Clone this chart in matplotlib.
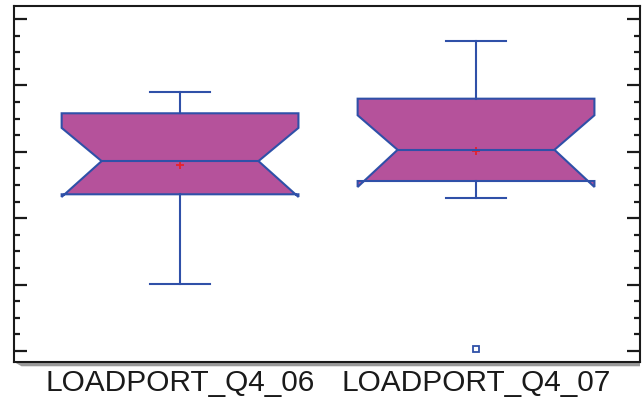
import numpy as np
import matplotlib.pyplot as plt
from matplotlib.patches import Polygon

categories = ['LOADPORT_Q4_06', 'LOADPORT_Q4_07']
whisker_hi = [3.90, 4.67]
q3 = [3.58, 3.80]
notch_hi = [3.36, 3.55]
median = [2.86, 3.03]
notch_lo = [2.32, 2.47]
q1 = [2.36, 2.56]
whisker_lo = [1.01, 2.30]
means = [2.80, 3.01]
outliers = [[], [0.03]]

edge = '#2f50a8'
fill = '#b5529b'

fig = plt.figure(figsize=(6.42, 4.0), dpi=100)
ax = fig.add_axes([14 / 642, 1 - 362 / 400, 626 / 642, 356 / 400])

half = 0.40
ind = 0.265
cap = 0.10
lw = 1.5
for i, name in enumerate(categories):
    x = i + 1
    verts = [
        (x - half, q1[i]), (x - half, notch_lo[i]), (x - ind, median[i]),
        (x - half, notch_hi[i]), (x - half, q3[i]), (x + half, q3[i]),
        (x + half, notch_hi[i]), (x + ind, median[i]), (x + half, notch_lo[i]),
        (x + half, q1[i]),
    ]
    ax.add_patch(Polygon(verts, closed=True, facecolor=fill, edgecolor=edge,
                         lw=lw, joinstyle='miter', zorder=2))
    ax.plot([x - ind, x + ind], [median[i], median[i]], color=edge, lw=lw, zorder=3)
    ax.plot([x, x], [q3[i], whisker_hi[i]], color=edge, lw=lw, zorder=2)
    ax.plot([x, x], [q1[i], whisker_lo[i]], color=edge, lw=lw, zorder=2)
    ax.plot([x - cap, x + cap], [whisker_hi[i]] * 2, color=edge, lw=lw)
    ax.plot([x - cap, x + cap], [whisker_lo[i]] * 2, color=edge, lw=lw)
    ax.plot([x], [means[i]], marker='+', color='#e8212a', ms=6, mew=1.3, zorder=2.5)
    if outliers[i]:
        ax.plot([x] * len(outliers[i]), outliers[i], 's', ms=4, mfc='white',
                mec=edge, mew=1.3, zorder=4)

ax.set_xlim(0.439, 2.554)
ax.set_ylim(-0.166, 5.196)
ax.set_xticks([1, 2])
ax.set_xticklabels(categories, fontsize=21.5, family='Liberation Sans', color='#1a1a1a')
ax.tick_params(axis='x', length=0, pad=5)
ax.set_yticks(np.arange(0, 6))
ax.set_yticks(np.arange(0, 5.01, 0.25), minor=True)
ax.tick_params(axis='y', which='both', direction='in', left=True, right=True,
               labelleft=False, width=1.6, color='#1a1a1a')
ax.tick_params(axis='y', which='major', length=9.5)
ax.tick_params(axis='y', which='minor', length=4.5)
for s in ax.spines.values():
    s.set_linewidth(1.5)
    s.set_color('#1a1a1a')

# shadow under the bottom axis line
shadow = Polygon([(0, 0), (0.012, -0.012), (1, -0.012), (1, 0)], closed=True,
                 transform=ax.transAxes, facecolor='#9a9a9a', edgecolor='none',
                 clip_on=False, zorder=0)
ax.add_patch(shadow)

fig.savefig('out.png', dpi=100)
